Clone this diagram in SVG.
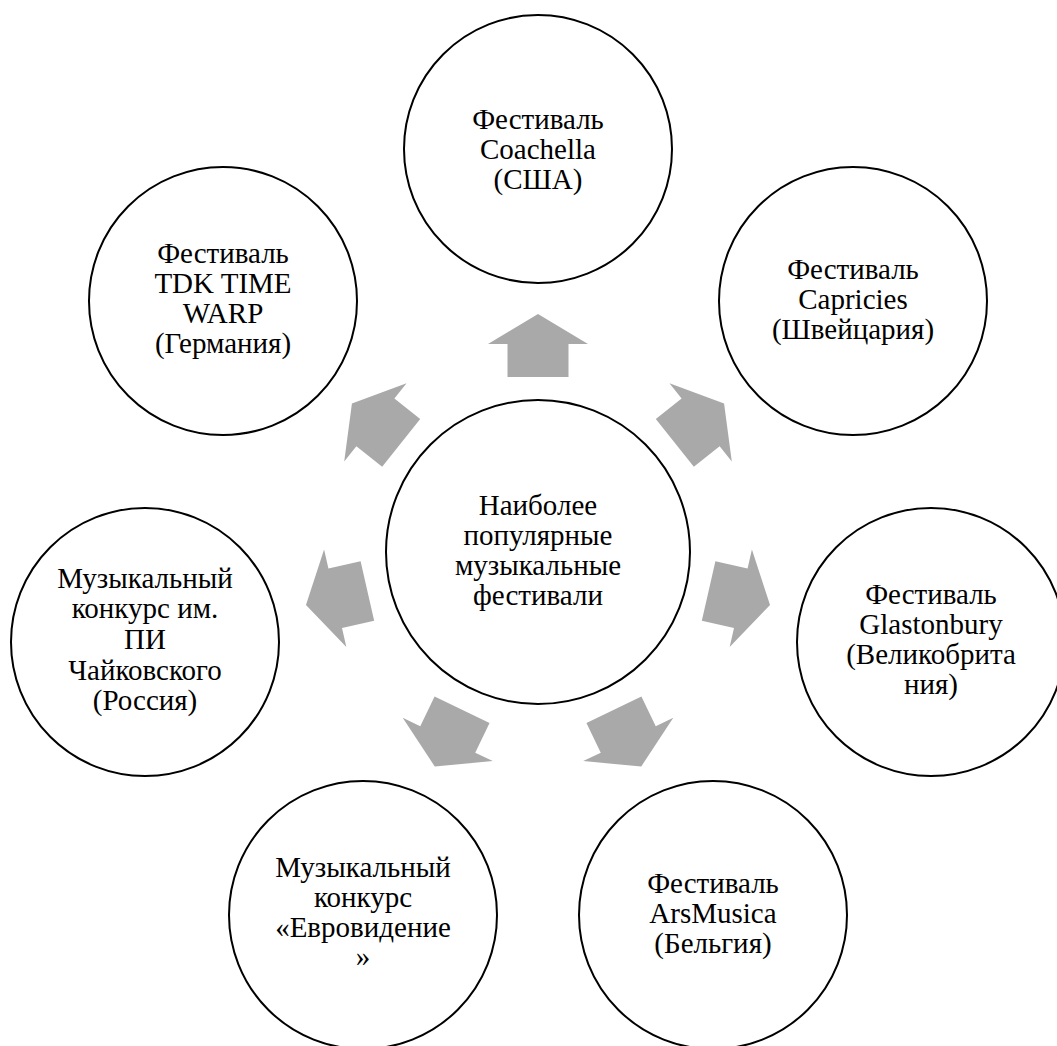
<svg xmlns="http://www.w3.org/2000/svg" xmlns:xlink="http://www.w3.org/1999/xlink" width="1057" height="1046" viewBox="0 0 1057 1046">
<style>
.node circle{fill:#FFFFFF;stroke:#000000;stroke-width:2}
.node text{font-family:"Liberation Serif","Times New Roman",serif;font-size:29px;fill:#000000;text-anchor:middle}
.arr{fill:#A9A9A9;stroke:none}
</style>
<defs>
<polygon id="arrow" points="538,314 588,344 568.5,344 568.5,377 507.5,377 507.5,344 488,344"/>
</defs>
<rect x="0" y="0" width="1057" height="1046" fill="#FFFFFF"/>
<g id="connectors" class="arr">
<use xlink:href="#arrow" href="#arrow" transform="rotate(0 538 552)"/>
<use xlink:href="#arrow" href="#arrow" transform="rotate(51.4286 538 552)"/>
<use xlink:href="#arrow" href="#arrow" transform="rotate(102.8571 538 552)"/>
<use xlink:href="#arrow" href="#arrow" transform="rotate(154.2857 538 552)"/>
<use xlink:href="#arrow" href="#arrow" transform="rotate(205.7143 538 552)"/>
<use xlink:href="#arrow" href="#arrow" transform="rotate(257.1429 538 552)"/>
<use xlink:href="#arrow" href="#arrow" transform="rotate(308.5714 538 552)"/>
</g>
<g id="center" class="node" font-family="Liberation Serif, serif">
<circle cx="538" cy="552" r="152"/>
<text x="538" y="515">Наиболее</text>
<text x="538" y="545">популярные</text>
<text x="538" y="575">музыкальные</text>
<text x="538" y="605">фестивали</text>
</g>
<g id="coachella" class="node" font-family="Liberation Serif, serif">
<circle cx="538" cy="149" r="134"/>
<text x="538" y="129">Фестиваль</text>
<text x="538" y="159">Coachella</text>
<text x="538" y="189">(США)</text>
</g>
<g id="capricies" class="node" font-family="Liberation Serif, serif">
<circle cx="853" cy="301" r="134"/>
<text x="853" y="279">Фестиваль</text>
<text x="853" y="309">Capricies</text>
<text x="853" y="339">(Швейцария)</text>
</g>
<g id="glastonbury" class="node" font-family="Liberation Serif, serif">
<circle cx="931" cy="642" r="134"/>
<text x="931" y="604">Фестиваль</text>
<text x="931" y="634">Glastonbury</text>
<text x="931" y="664">(Великобрита</text>
<text x="931" y="694">ния)</text>
</g>
<g id="arsmusica" class="node" font-family="Liberation Serif, serif">
<circle cx="713" cy="915" r="134"/>
<text x="713" y="893">Фестиваль</text>
<text x="713" y="923">ArsMusica</text>
<text x="713" y="953">(Бельгия)</text>
</g>
<g id="eurovision" class="node" font-family="Liberation Serif, serif">
<circle cx="363" cy="915" r="134"/>
<text x="363" y="877">Музыкальный</text>
<text x="363" y="907">конкурс</text>
<text x="363" y="937">«Евровидение</text>
<text x="363" y="966">»</text>
</g>
<g id="tchaikovsky" class="node" font-family="Liberation Serif, serif">
<circle cx="145" cy="642" r="134"/>
<text x="145" y="588">Музыкальный</text>
<text x="145" y="618">конкурс им.</text>
<text x="145" y="649">ПИ</text>
<text x="145" y="680">Чайковского</text>
<text x="145" y="710">(Россия)</text>
</g>
<g id="tdk" class="node" font-family="Liberation Serif, serif">
<circle cx="223" cy="301" r="134"/>
<text x="223" y="263">Фестиваль</text>
<text x="223" y="293">TDK TIME</text>
<text x="223" y="323">WARP</text>
<text x="223" y="353">(Германия)</text>
</g>
</svg>
